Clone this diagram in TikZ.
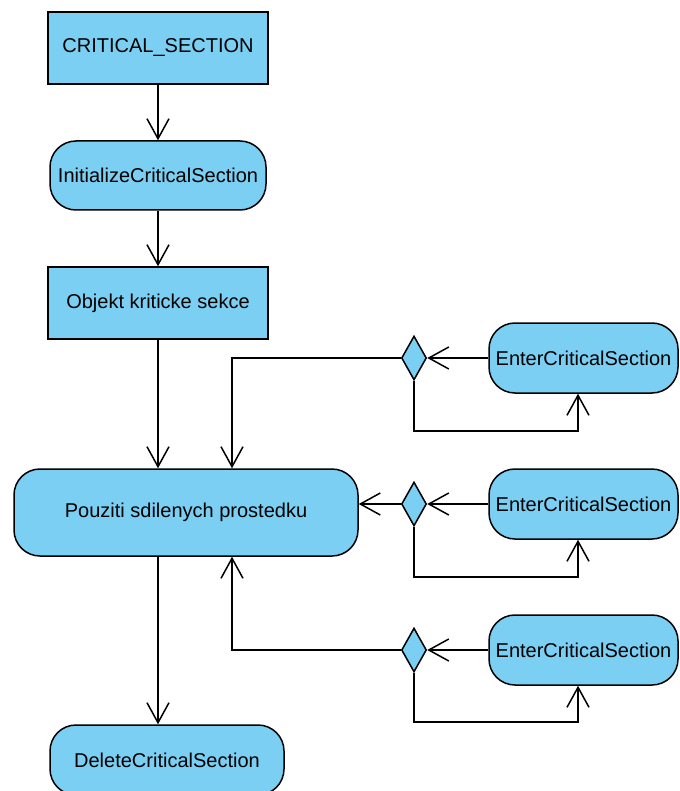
\documentclass[tikz,border=0pt]{standalone}
\usepackage{fontspec}
\setmainfont{Liberation Sans}
\usetikzlibrary{arrows.meta,shapes.geometric}
\definecolor{boxblue}{RGB}{122,207,243}
\begin{document}
\begin{tikzpicture}[x=1pt,y=-1pt,
 base/.style={draw=black,line width=1.5pt,fill=boxblue,inner sep=0pt,font=\fontsize{20}{24}\selectfont},
 rectbox/.style={base,rectangle},
 roundbox/.style={base,rectangle,rounded corners=26pt},
 dia/.style={draw=black,line width=1.5pt,fill=boxblue,shape=diamond,inner sep=0pt,minimum width=25pt,minimum height=44pt},
 arr/.style={line width=1.5pt,-{Straight Barb[length=20pt,width=22pt]}},
 ln/.style={line width=1.5pt}]
\useasboundingbox (0,0) rectangle (679,791);
\node[rectbox,minimum width=220pt,minimum height=72pt] (cs) at (158,48) {CRITICAL\_SECTION};
\node[roundbox,minimum width=216pt,minimum height=69pt] (init) at (158,175.5) {InitializeCriticalSection};
\node[rectbox,minimum width=220pt,minimum height=72pt] (ob) at (158,303) {Objekt kriticke sekce};
\node[roundbox,minimum width=344pt,minimum height=87pt] (pu) at (186,512.5) {Pouziti sdilenych prostedku};
\node[roundbox,minimum width=234pt,minimum height=70pt] (del) at (167,760) {DeleteCriticalSection};
\node[roundbox,minimum width=189pt,minimum height=70pt] (e1) at (583.5,358) {EnterCriticalSection};
\node[roundbox,minimum width=189pt,minimum height=70pt] (e2) at (583.5,504) {EnterCriticalSection};
\node[roundbox,minimum width=189pt,minimum height=70pt] (e3) at (583.5,650) {EnterCriticalSection};
\node[dia] (d1) at (414,358) {};
\node[dia] (d2) at (414,504) {};
\node[dia] (d3) at (414,650) {};
\coordinate (px) at (232,0);
\coordinate (ax) at (158,0);
\coordinate (ex) at (578,0);
\coordinate (l1) at (0,431);
\coordinate (l2) at (0,577);
\coordinate (l3) at (0,722);
% main chain
\draw[arr] (cs) -- (init);
\draw[arr] (init) -- (ob);
\draw[arr] (ob.south) -- (ob.south |- pu.north);
\draw[arr] (ax |- pu.south) -- (ax |- del.north);
% enter 1
\draw[arr] (e1.west) -- (d1.east);
\draw[arr] (d1.west) -| (px |- pu.north);
\draw[arr] (d1.south) |- (ex |- l1) -- (ex |- e1.south);
% enter 2
\draw[arr] (e2.west) -- (d2.east);
\draw[arr] (d2.west) -- (d2.west -| pu.east);
\draw[arr] (d2.south) |- (ex |- l2) -- (ex |- e2.south);
% enter 3
\draw[arr] (e3.west) -- (d3.east);
\draw[arr] (d3.west) -| (px |- pu.south);
\draw[arr] (d3.south) |- (ex |- l3) -- (ex |- e3.south);
\end{tikzpicture}
\end{document}
